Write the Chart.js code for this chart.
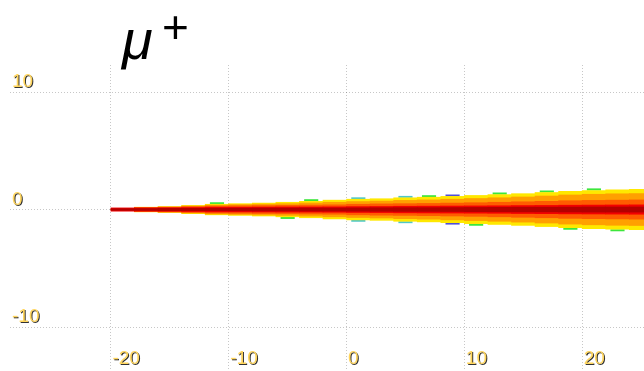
<!DOCTYPE html>
<html>
<head>
<meta charset="utf-8">
<script src="https://cdn.jsdelivr.net/npm/chart.js@4/dist/chart.umd.min.js"></script>
<style>
  body { margin: 0; background: #fff; }
  #wrap { width: 644px; height: 371px; }
</style>
</head>
<body>
<div id="wrap"><canvas id="beamChart" width="644" height="371"></canvas></div>
<script>
// bin centres along x (bins 2 units wide)
const binX = [-19, -17, -15, -13, -11, -9, -7, -5, -3, -1, 1, 3, 5, 7, 9, 11, 13, 15, 17, 19, 21, 23, 25];
// half widths of each colour band
const yellowHalf = [0, 0.2, 0.25, 0.35, 0.45, 0.5, 0.55, 0.62, 0.7, 0.8, 0.88, 0.92, 1.0, 1.05, 1.12, 1.2, 1.27, 1.35, 1.45, 1.55, 1.62, 1.68, 1.72];
const orangeHalf = [0, 0.18, 0.22, 0.3, 0.38, 0.42, 0.46, 0.5, 0.56, 0.62, 0.68, 0.72, 0.78, 0.82, 0.88, 0.94, 1.0, 1.07, 1.15, 1.24, 1.3, 1.34, 1.36];
const redOrangeHalf = [0, 0.16, 0.2, 0.25, 0.3, 0.32, 0.34, 0.36, 0.38, 0.4, 0.45, 0.48, 0.5, 0.52, 0.55, 0.58, 0.62, 0.66, 0.7, 0.75, 0.78, 0.8, 0.82];
const redHalf = [0.14, 0.14, 0.15, 0.17, 0.2, 0.2, 0.21, 0.22, 0.22, 0.23, 0.25, 0.26, 0.28, 0.29, 0.3, 0.31, 0.32, 0.34, 0.35, 0.37, 0.38, 0.39, 0.4];
const darkHalf = [0.07, 0.08, 0.1, 0.1, 0.1, 0.11, 0.12, 0.12, 0.13, 0.13, 0.14, 0.15, 0.16, 0.16, 0.17, 0.18, 0.19, 0.2, 0.2, 0.21, 0.22, 0.22, 0.22];

// stray low-count cells at the edge of the beam
const greenSpots = [
  {x: -11, y: [0.45, 0.62]}, {x: -5, y: [-0.62, -0.8]}, {x: -3, y: [0.7, 0.88]},
  {x: 7, y: [1.05, 1.22]}, {x: 11, y: [-1.2, -1.38]}, {x: 13, y: [1.27, 1.45]},
  {x: 17, y: [1.45, 1.62]}, {x: 19, y: [-1.55, -1.72]}, {x: 21, y: [1.62, 1.8]}, {x: 23, y: [-1.68, -1.85]}
];
const cyanSpots = [
  {x: 1, y: [0.88, 1.04]}, {x: 1, y: [-0.88, -1.04]}, {x: 5, y: [1.0, 1.16]}, {x: 5, y: [-1.0, -1.16]}
];
const blueSpots = [
  {x: 9, y: [1.12, 1.28]}, {x: 9, y: [-1.12, -1.28]}
];

const xTicks = [-20, -10, 0, 10, 20];
const yTicks = [-10, 0, 10];

function band(half) {
  return binX.map((x, i) => ({x: x, y: [-half[i], half[i]]}));
}

function barSet(data, color, pct) {
  return {
    data: data,
    backgroundColor: color,
    borderWidth: 0,
    barPercentage: pct || 1,
    categoryPercentage: 1,
    grouped: false
  };
}

// draws the yellow tick labels and the title
const labelPlugin = {
  id: 'labels',
  afterDraw(chart) {
    const ctx = chart.ctx;
    const xs = chart.scales.x, ys = chart.scales.y;
    ctx.save();
    ctx.font = '19px "Liberation Sans", Arial, sans-serif';
    ctx.textAlign = 'left';
    ctx.textBaseline = 'alphabetic';
    ctx.shadowColor = '#333';
    ctx.shadowOffsetX = 1;
    ctx.shadowOffsetY = 1;
    ctx.shadowBlur = 0;
    ctx.fillStyle = '#ffd55c';
    yTicks.forEach(v => {
      ctx.fillText(String(v), 12, ys.getPixelForValue(v) - 5);
    });
    xTicks.forEach(v => {
      ctx.fillText(String(v), xs.getPixelForValue(v) + 1.5, 364);
    });
    ctx.restore();

    ctx.save();
    ctx.fillStyle = '#000';
    ctx.font = 'italic 56px "Liberation Sans", Arial, sans-serif';
    ctx.fillText('\u03bc', 122, 59);
    ctx.font = '46px "Liberation Sans", Arial, sans-serif';
    ctx.fillText('+', 162, 43);
    ctx.restore();
  }
};

const gridOpts = {
  color: 'rgba(0,0,0,0.22)',
  lineWidth: 1,
  drawTicks: false,
  offset: false
};

new Chart(document.getElementById('beamChart'), {
  type: 'bar',
  data: {
    datasets: [
      barSet(band(darkHalf), '#b30000'),
      barSet(band(redHalf), '#f20000'),
      barSet(band(redOrangeHalf), '#ff5c00'),
      barSet(band(orangeHalf), '#ffa000'),
      barSet(band(yellowHalf), '#ffe800'),
      barSet(greenSpots, '#3ce63c', 0.6),
      barSet(cyanSpots, '#50c8c8', 0.6),
      barSet(blueSpots, '#5050d8', 0.6)
    ]
  },
  options: {
    responsive: false,
    animation: false,
    layout: { padding: { left: 10, top: 65, right: 0, bottom: 0 } },
    plugins: { legend: { display: false }, tooltip: { enabled: false } },
    scales: {
      x: {
        type: 'linear',
        offset: false,
        min: -28.57,
        max: 25.25,
        ticks: { display: false, stepSize: 10, includeBounds: false },
        grid: gridOpts,
        border: { display: false, dash: [1, 2] }
      },
      y: {
        type: 'linear',
        min: -13.74,
        max: 12.3,
        ticks: { display: false, stepSize: 10, includeBounds: false },
        grid: gridOpts,
        border: { display: false, dash: [1, 2] }
      }
    }
  },
  plugins: [labelPlugin]
});
</script>
</body>
</html>
